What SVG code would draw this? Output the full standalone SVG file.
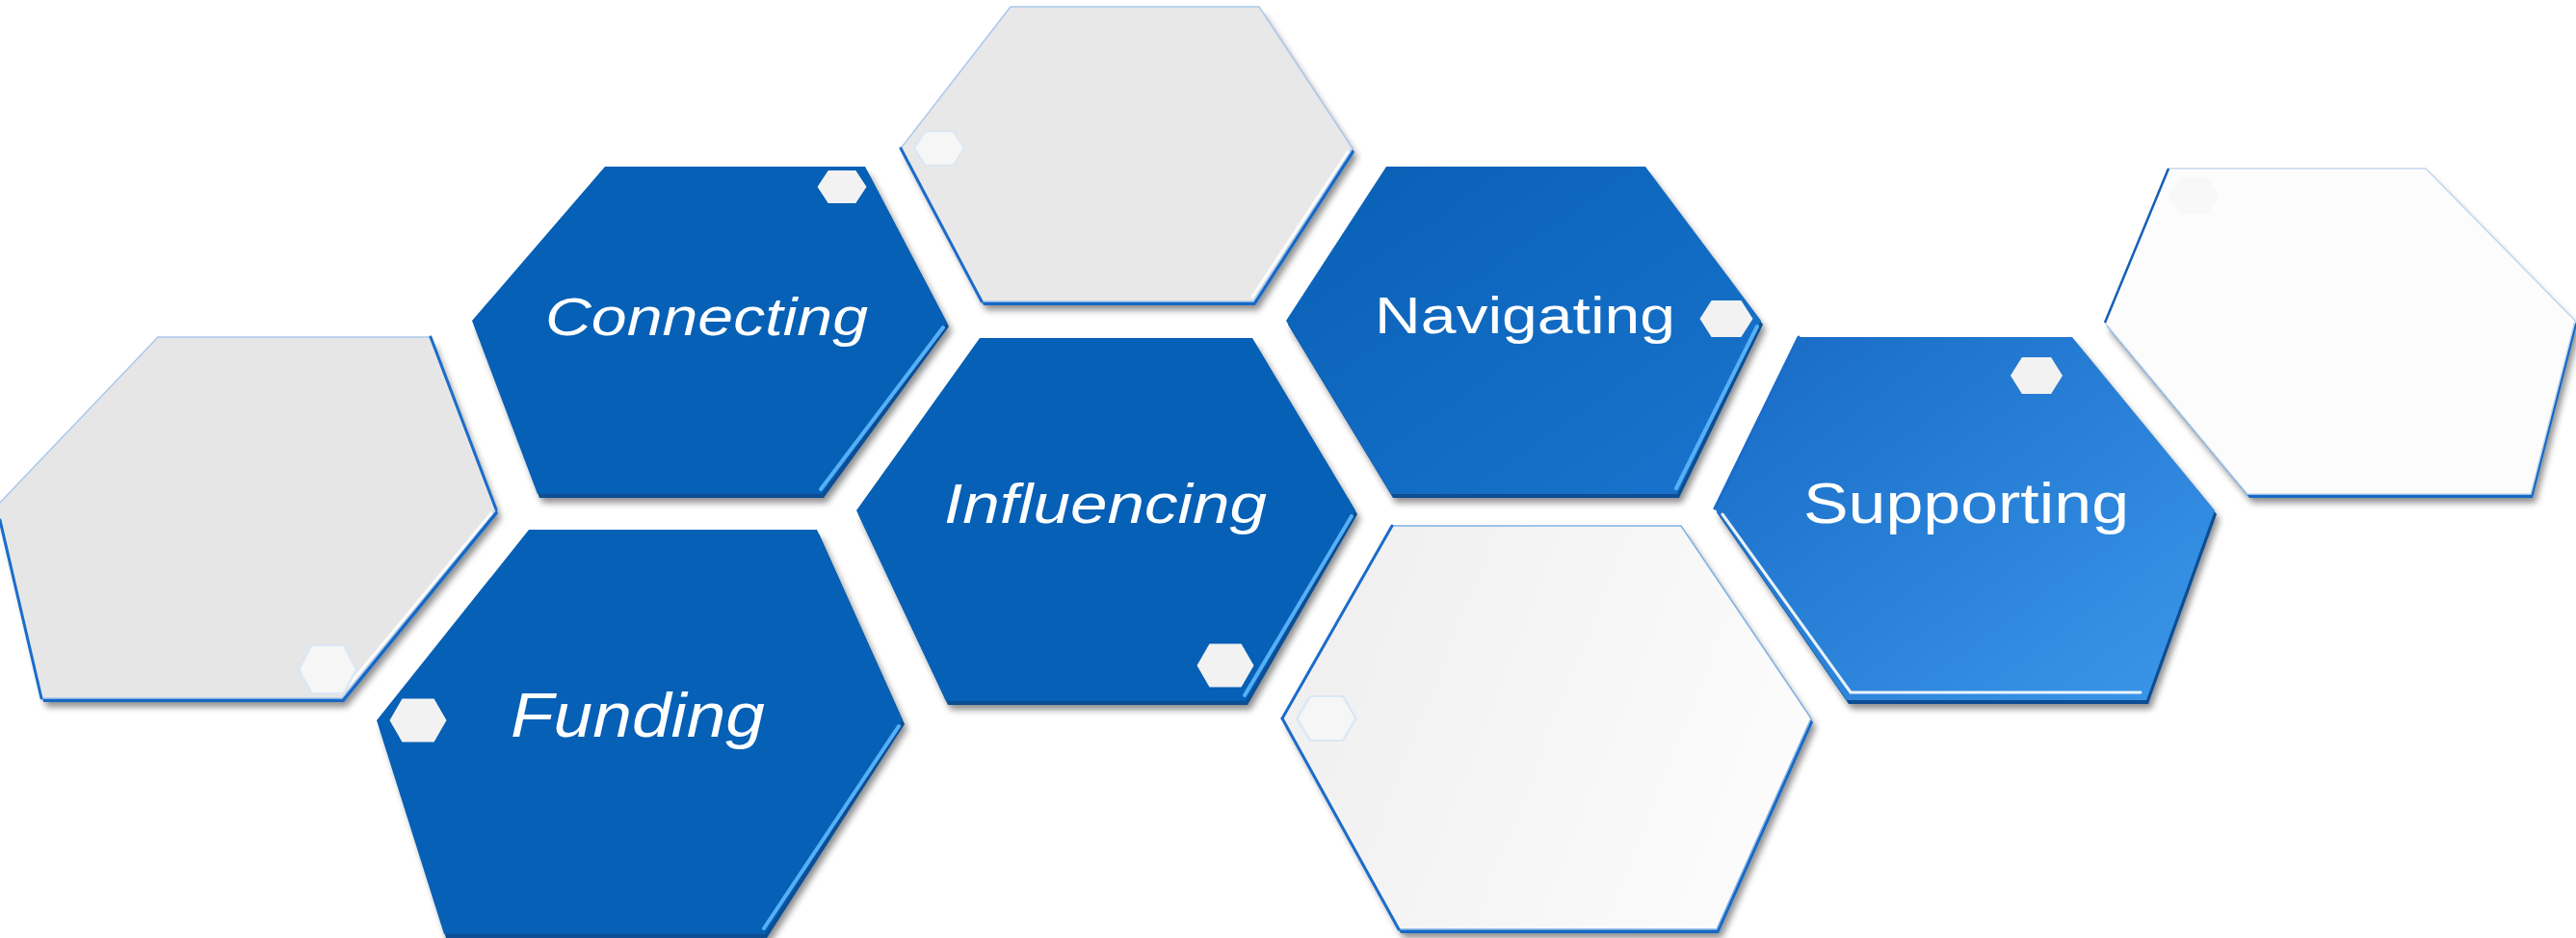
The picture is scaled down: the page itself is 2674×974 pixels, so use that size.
<svg xmlns="http://www.w3.org/2000/svg" width="2674" height="974" viewBox="0 0 2674 974">
<defs>
<style>
.bbase{fill:#0b4d92}
.gbase{fill:#1668c4}
.blue{fill:#0560b6}
.grey{stroke:#a9c9ec;stroke-width:1.5}
.hl{stroke:#55b0f8;stroke-width:4;stroke-linecap:round;fill:none}
.whl{stroke:#ffffff;stroke-width:3;stroke-linecap:round;fill:none;opacity:0.9}
.edge{stroke:#1a6ccc;stroke-width:3;fill:none;stroke-linecap:round}
.mini{fill:#f2f2f2}
.faint{fill:#f6f6f6;stroke:#dbe7f4;stroke-width:0.04}
.lbl{font-family:"Liberation Sans",Arial,sans-serif;fill:#ffffff}
.it{font-style:italic}
</style>
<filter id="sh" x="-10%" y="-10%" width="125%" height="130%">
<feGaussianBlur in="SourceAlpha" stdDeviation="3.5"/>
<feOffset dx="3" dy="5"/>
<feComponentTransfer><feFuncA type="linear" slope="0.45"/></feComponentTransfer>
<feMerge><feMergeNode/><feMergeNode in="SourceGraphic"/></feMerge>
</filter>
<linearGradient id="navG" x1="0" y1="0" x2="1" y2="1">
<stop offset="0" stop-color="#0860b5"/><stop offset="1" stop-color="#1a74cd"/>
</linearGradient>
<linearGradient id="supG" x1="0" y1="0" x2="1" y2="1">
<stop offset="0" stop-color="#176ac4"/><stop offset="1" stop-color="#3b97ea"/>
</linearGradient>
<linearGradient id="botG" x1="0" y1="0" x2="1" y2="0.3">
<stop offset="0" stop-color="#eeeeee"/><stop offset="1" stop-color="#fbfbfb"/>
</linearGradient>
<polygon id="mh" points="-0.5,0 -0.28,-0.5 0.28,-0.5 0.5,0 0.28,0.5 -0.28,0.5"/>
</defs>
<rect width="2674" height="974" fill="#ffffff"/>

<g id="hex-grey-left">
<polygon class="gbase" filter="url(#sh)" transform="translate(2,4)" points="164,350 447,350 515,529 355,725 43,725 -4,526"/>
<polygon class="grey" fill="#e6e6e6" points="164,350 447,350 515,529 355,725 43,725 -4,526"/>
<polyline class="edge" points="0,540 43,725"/>
<polyline class="edge" stroke-width="2" points="447,350 515,529"/>
<line class="whl" x1="510" y1="533" x2="355" y2="720"/>
<use href="#mh" class="faint" transform="translate(340,695) scale(60,50)"/>
</g>

<g id="hex-connecting">
<polygon class="bbase" filter="url(#sh)" transform="translate(2,4)" points="628,173 898,173 983,335 853,513 558,513 490,333"/>
<polygon class="blue" points="628,173 898,173 983,335 853,513 558,513 490,333"/>
<line class="hl" x1="979" y1="340" x2="852" y2="508"/>
<use href="#mh" class="mini" transform="translate(874,194) scale(51,34)"/>
<text class="lbl it" x="566" y="348" font-size="56" textLength="335" lengthAdjust="spacingAndGlyphs">Connecting</text>
</g>

<g id="hex-funding">
<polygon class="bbase" filter="url(#sh)" transform="translate(2,4)" points="549,550 848,550 937,748 794,970 461,970 391,748"/>
<polygon class="blue" points="549,550 848,550 937,748 794,970 461,970 391,748"/>
<line class="hl" x1="933" y1="754" x2="793" y2="964"/>
<use href="#mh" class="mini" transform="translate(434,748) scale(59,45)"/>
<text class="lbl it" x="530" y="765" font-size="65" textLength="264" lengthAdjust="spacingAndGlyphs">Funding</text>
</g>

<g id="hex-grey-top">
<polygon class="gbase" filter="url(#sh)" transform="translate(2,4)" points="1049,7 1307,7 1404,154 1301,313 1019,313 935,154"/>
<polygon class="grey" fill="#e8e8e8" points="1049,7 1307,7 1404,154 1301,313 1019,313 935,154"/>
<polyline class="edge" points="935,154 1019,313"/>
<line class="whl" x1="1399" y1="158" x2="1300" y2="308"/>
<use href="#mh" class="faint" transform="translate(975,154) scale(52,35)"/>
</g>

<g id="hex-influencing">
<polygon class="bbase" filter="url(#sh)" transform="translate(2,4)" points="1017,351 1300,351 1407,530 1293,728 982,728 889,530"/>
<polygon class="blue" points="1017,351 1300,351 1407,530 1293,728 982,728 889,530"/>
<line class="hl" x1="1403" y1="536" x2="1292" y2="722"/>
<use href="#mh" class="mini" transform="translate(1272,691) scale(59,45)"/>
<text class="lbl it" x="980" y="543" font-size="57" textLength="335" lengthAdjust="spacingAndGlyphs">Influencing</text>
</g>

<g id="hex-navigating">
<polygon class="bbase" filter="url(#sh)" transform="translate(2,4)" points="1439,173 1708,173 1828,333 1741,513 1444,513 1335,333"/>
<polygon fill="url(#navG)" points="1439,173 1708,173 1828,333 1741,513 1444,513 1335,333"/>
<line class="hl" x1="1824" y1="339" x2="1740" y2="507"/>
<use href="#mh" class="mini" transform="translate(1792,331) scale(55,38)"/>
<text class="lbl" x="1427" y="346" font-size="53" textLength="312" lengthAdjust="spacingAndGlyphs">Navigating</text>
</g>

<g id="hex-white-bottom">
<polygon class="gbase" filter="url(#sh)" transform="translate(2,4)" points="1445,546 1745,546 1880,746 1782,965 1452,965 1331,746"/>
<polygon fill="url(#botG)" stroke="#7fb0e6" stroke-width="1.5" points="1445,546 1745,546 1880,746 1782,965 1452,965 1331,746"/>
<polyline class="edge" stroke-width="2" stroke="#1c5fa8" points="1445,546 1331,746"/>
<polyline class="edge" points="1331,746 1452,965"/>
<use href="#mh" class="faint" transform="translate(1377,746) scale(61,46)"/>
</g>

<g id="hex-supporting">
<polygon class="bbase" filter="url(#sh)" transform="translate(2,4)" points="1867,350 2151,350 2299,530 2228,727 1917,727 1780,528"/>
<polygon fill="url(#supG)" points="1867,350 2151,350 2299,530 2228,727 1917,727 1780,528"/>
<polyline class="edge" stroke-width="2" stroke="#0d53a0" points="1867,350 1780,528"/>
<polyline class="whl" stroke-width="4" points="1788,534 1921,719 2222,719"/>
<use href="#mh" class="mini" fill="#ffffff" transform="translate(2114,390) scale(54,38)"/>
<text class="lbl" x="1872" y="543" font-size="60" textLength="338" lengthAdjust="spacingAndGlyphs">Supporting</text>
</g>

<g id="hex-white-right">
<polygon class="gbase" filter="url(#sh)" transform="translate(2,4)" points="2251,175 2518,175 2673,333 2627,513 2333,513 2185,335"/>
<polygon fill="#fcfcfc" stroke="#c2d8f0" stroke-width="1.5" points="2251,175 2518,175 2673,333 2627,513 2333,513 2185,335"/>
<line x1="2251" y1="175" x2="2185" y2="335" stroke="#155fb5" stroke-width="2.5"/>
<use href="#mh" fill="#f8f8f8" transform="translate(2277,203) scale(53,37)"/>
</g>

<g id="connectors"/>
</svg>
